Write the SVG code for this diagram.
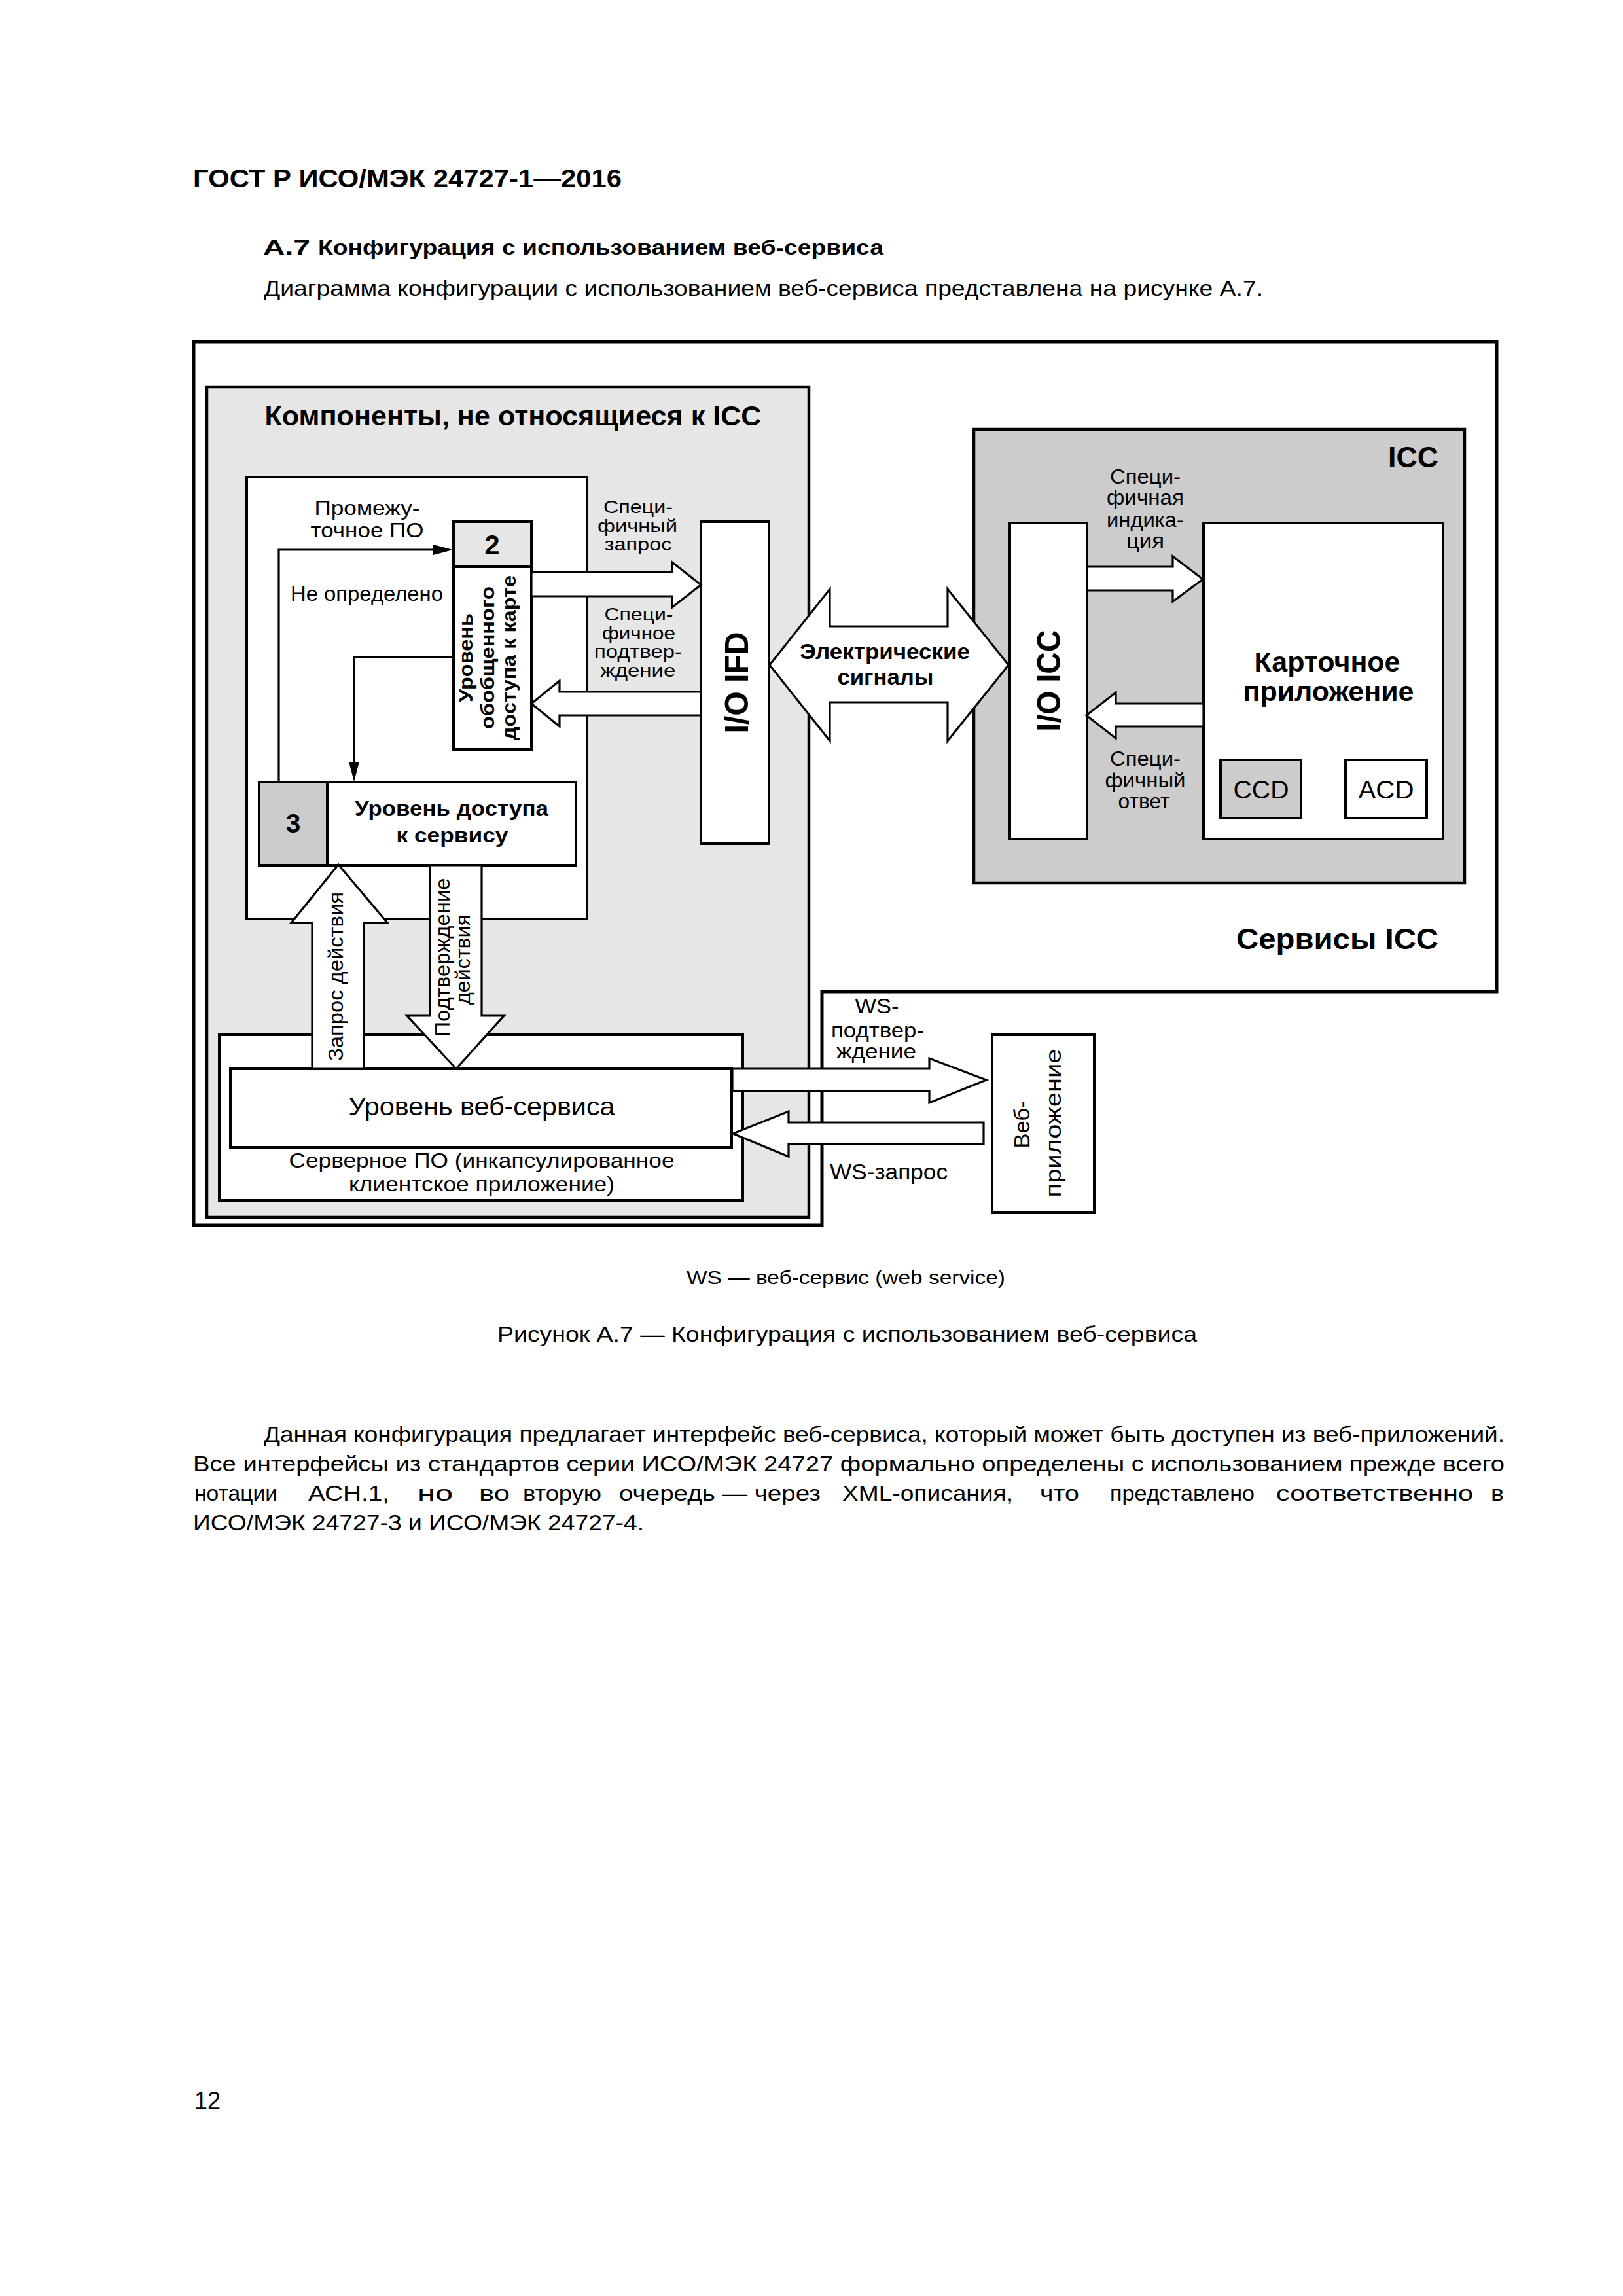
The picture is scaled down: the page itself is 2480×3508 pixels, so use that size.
<svg xmlns="http://www.w3.org/2000/svg" width="2480" height="3508" viewBox="0 0 2480 3508">
<style>
text{font-family:"Liberation Sans",Arial,"Noto Sans",sans-serif;fill:#000}
.b{font-weight:bold}
.m{text-anchor:middle}
.e{text-anchor:end}
.box{fill:#fff;stroke:#000;stroke-width:4}
.ba{fill:#fff;stroke:#000;stroke-width:3.2;stroke-linejoin:miter}
.ln{fill:none;stroke:#000;stroke-width:3.2}
</style>
<defs>
<marker id="ah" markerUnits="userSpaceOnUse" markerWidth="32" markerHeight="18" refX="20" refY="8" orient="auto">
<path d="M0,0 L30,8 L0,16 Z" fill="#000"/>
</marker>
</defs>
<rect width="2480" height="3508" fill="#fff"/>

<g id="page-text">
<text class="b" x="295" y="286" font-size="39" textLength="655" lengthAdjust="spacingAndGlyphs">ГОСТ Р ИСО/МЭК 24727-1—2016</text>
<text class="b" x="402" y="389" font-size="31" textLength="72" lengthAdjust="spacingAndGlyphs">А.7</text>
<text class="b" x="486" y="389" font-size="31" textLength="864" lengthAdjust="spacingAndGlyphs">Конфигурация с использованием веб-сервиса</text>
<text x="403" y="452" font-size="33" textLength="1527" lengthAdjust="spacingAndGlyphs">Диаграмма конфигурации с использованием веб-сервиса представлена на рисунке А.7.</text>
<text x="1049" y="1962" font-size="30" textLength="487" lengthAdjust="spacingAndGlyphs">WS — веб-сервис (web service)</text>
<text x="760" y="2050" font-size="33" textLength="1069" lengthAdjust="spacingAndGlyphs">Рисунок А.7 — Конфигурация с использованием веб-сервиса</text>
<text x="403" y="2203" font-size="34" textLength="1896" lengthAdjust="spacingAndGlyphs">Данная конфигурация предлагает интерфейс веб-сервиса, который может быть доступен из веб-приложений.</text>
<text x="295" y="2248" font-size="34" textLength="2004" lengthAdjust="spacingAndGlyphs">Все интерфейсы из стандартов серии ИСО/МЭК 24727 формально определены с использованием прежде всего</text>
<g font-size="34">
<text x="297" y="2293" textLength="127" lengthAdjust="spacingAndGlyphs">нотации</text>
<text x="471" y="2293" textLength="124" lengthAdjust="spacingAndGlyphs">АСН.1,</text>
<text x="638" y="2293" textLength="54" lengthAdjust="spacingAndGlyphs">но</text>
<text x="732" y="2293" textLength="47" lengthAdjust="spacingAndGlyphs">во</text>
<text x="799" y="2293" textLength="120" lengthAdjust="spacingAndGlyphs">вторую</text>
<text x="946" y="2293" textLength="308" lengthAdjust="spacingAndGlyphs">очередь — через</text>
<text x="1287" y="2293" textLength="261" lengthAdjust="spacingAndGlyphs">XML-описания,</text>
<text x="1589" y="2293" textLength="60" lengthAdjust="spacingAndGlyphs">что</text>
<text x="1696" y="2293" textLength="221" lengthAdjust="spacingAndGlyphs">представлено</text>
<text x="1950" y="2293" textLength="301" lengthAdjust="spacingAndGlyphs">соответственно</text>
<text x="2278" y="2293" textLength="20" lengthAdjust="spacingAndGlyphs">в</text>
</g>
<text x="295" y="2338" font-size="34" textLength="689" lengthAdjust="spacingAndGlyphs">ИСО/МЭК 24727-3 и ИСО/МЭК 24727-4.</text>
<text x="297" y="3222" font-size="36">12</text>
</g>

<g id="frames">
<path id="outer-frame" d="M296,522 H2287 V1515 H1256 V1872 H296 Z" fill="none" stroke="#000" stroke-width="5"/>
<rect id="non-icc-panel" x="316" y="591" width="920" height="1269" fill="#e6e6e6" stroke="#000" stroke-width="4.5"/>
<text class="b m" x="784" y="650" font-size="43" textLength="759" lengthAdjust="spacingAndGlyphs">Компоненты, не относящиеся к ICC</text>
<rect id="icc-panel" x="1488" y="656" width="750" height="693" fill="#cccccc" stroke="#000" stroke-width="4.5"/>
<text class="b e" x="2198" y="714" font-size="44" textLength="77" lengthAdjust="spacingAndGlyphs">ICC</text>
<text class="b e" x="2198" y="1450" font-size="45" textLength="309" lengthAdjust="spacingAndGlyphs">Сервисы ICC</text>
</g>

<g id="middleware">
<rect class="box" x="377" y="729" width="520" height="675"/>
<text class="m" x="561" y="787" font-size="32" textLength="161" lengthAdjust="spacingAndGlyphs">Промежу-</text>
<text class="m" x="561" y="821" font-size="32" textLength="173" lengthAdjust="spacingAndGlyphs">точное ПО</text>
<text x="444" y="918" font-size="32" textLength="233" lengthAdjust="spacingAndGlyphs">Не определено</text>
</g>

<g id="layer2">
<rect class="box" x="693" y="797" width="119" height="348"/>
<rect x="693" y="797" width="119" height="69" fill="#e6e6e6" stroke="#000" stroke-width="4"/>
<text class="b m" x="752" y="847" font-size="42">2</text>
<text class="b m" font-size="30" transform="translate(722,1005) rotate(-90)" textLength="136" lengthAdjust="spacingAndGlyphs">Уровень</text>
<text class="b m" font-size="30" transform="translate(755,1005) rotate(-90)" textLength="218" lengthAdjust="spacingAndGlyphs">обобщенного</text>
<text class="b m" font-size="30" transform="translate(788,1005) rotate(-90)" textLength="252" lengthAdjust="spacingAndGlyphs">доступа к карте</text>
</g>

<g id="layer3">
<rect class="box" x="396" y="1195" width="484" height="127"/>
<rect x="396" y="1195" width="104" height="127" fill="#cccccc" stroke="#000" stroke-width="4"/>
<text class="b m" x="448" y="1272" font-size="40">3</text>
<text class="b m" x="690" y="1246" font-size="32" textLength="296" lengthAdjust="spacingAndGlyphs">Уровень доступа</text>
<text class="b m" x="691" y="1287" font-size="32" textLength="171" lengthAdjust="spacingAndGlyphs">к сервису</text>
</g>

<g id="io-ifd">
<rect class="box" x="1071" y="797" width="104" height="492"/>
<text class="b m" font-size="50" transform="translate(1143,1043) rotate(-90)" textLength="155" lengthAdjust="spacingAndGlyphs">I/O IFD</text>
</g>

<g id="io-icc">
<rect class="box" x="1543" y="799" width="118" height="483"/>
<text class="b m" font-size="50" transform="translate(1620,1040) rotate(-90)" textLength="155" lengthAdjust="spacingAndGlyphs">I/O ICC</text>
</g>

<g id="card-app">
<rect class="box" x="1839" y="799" width="366" height="483"/>
<text class="b m" x="2028" y="1026" font-size="43" textLength="223" lengthAdjust="spacingAndGlyphs">Карточное</text>
<text class="b m" x="2030" y="1071" font-size="43" textLength="261" lengthAdjust="spacingAndGlyphs">приложение</text>
<rect x="1865" y="1161" width="123" height="89" fill="#cccccc" stroke="#000" stroke-width="4"/>
<text class="m" x="1927" y="1220" font-size="39" textLength="85" lengthAdjust="spacingAndGlyphs">CCD</text>
<rect class="box" x="2056" y="1161" width="124" height="89"/>
<text class="m" x="2118" y="1220" font-size="39" textLength="85" lengthAdjust="spacingAndGlyphs">ACD</text>
</g>

<g id="server">
<rect class="box" x="335" y="1581" width="800" height="253"/>
<rect class="box" x="352" y="1633" width="766" height="120"/>
<text class="m" x="736" y="1704" font-size="39" textLength="407" lengthAdjust="spacingAndGlyphs">Уровень веб-сервиса</text>
<text class="m" x="736" y="1784" font-size="32" textLength="589" lengthAdjust="spacingAndGlyphs">Серверное ПО (инкапсулированное</text>
<text class="m" x="736" y="1820" font-size="32" textLength="406" lengthAdjust="spacingAndGlyphs">клиентское приложение)</text>
</g>

<g id="web-app">
<rect class="box" x="1516" y="1581" width="156" height="272"/>
<text class="m" font-size="34" transform="translate(1573,1718) rotate(-90)" textLength="73" lengthAdjust="spacingAndGlyphs">Веб-</text>
<text class="m" font-size="34" transform="translate(1621,1716) rotate(-90)" textLength="227" lengthAdjust="spacingAndGlyphs">приложение</text>
</g>

<g id="connectors">
<polyline class="ln" points="426,1195 426,840 682,840" marker-end="url(#ah)"/>
<polyline class="ln" points="693,1004 541,1004 541,1184" marker-end="url(#ah)"/>
<polygon class="ba" points="812,874 1027,874 1027,859 1071,893.5 1027,928 1027,911 812,911"/>
<polygon class="ba" points="1071,1057 855,1057 855,1040 812,1075 855,1110 855,1093 1071,1093"/>
<polygon class="ba" points="1176,1016 1268,900 1268,957 1448,957 1448,900 1541,1016 1448,1132 1448,1073 1268,1073 1268,1132"/>
<polygon class="ba" points="1661,866 1792,866 1792,850 1838,885 1792,919 1792,902 1661,902"/>
<polygon class="ba" points="1839,1075 1705,1075 1705,1058 1660,1093 1705,1128 1705,1110 1839,1110"/>
<polygon class="ba" points="477,1633 477,1410 445,1410 517,1321 592,1410 556,1410 556,1633"/>
<polygon class="ba" points="657,1322 657,1552 622,1552 697,1633 770,1552 736,1552 736,1322"/>
<polygon class="ba" points="1119,1633 1420,1633 1420,1617 1507,1650 1420,1685 1420,1667 1119,1667"/>
<polygon class="ba" points="1503,1715 1205,1715 1205,1698 1120,1732 1205,1767 1205,1748 1503,1748"/>
</g>

<g id="connector-labels">
<text class="m" x="975" y="784" font-size="28" textLength="106" lengthAdjust="spacingAndGlyphs">Специ-</text>
<text class="m" x="974" y="812.5" font-size="28" textLength="122" lengthAdjust="spacingAndGlyphs">фичный</text>
<text class="m" x="975" y="841" font-size="28" textLength="103" lengthAdjust="spacingAndGlyphs">запрос</text>
<text class="m" x="976" y="948" font-size="28" textLength="105" lengthAdjust="spacingAndGlyphs">Специ-</text>
<text class="m" x="976" y="976.5" font-size="28" textLength="112" lengthAdjust="spacingAndGlyphs">фичное</text>
<text class="m" x="975" y="1005" font-size="28" textLength="134" lengthAdjust="spacingAndGlyphs">подтвер-</text>
<text class="m" x="975" y="1033.5" font-size="28" textLength="115" lengthAdjust="spacingAndGlyphs">ждение</text>
<text class="b m" x="1352" y="1007" font-size="34" textLength="260" lengthAdjust="spacingAndGlyphs">Электрические</text>
<text class="b m" x="1353" y="1046" font-size="34" textLength="147" lengthAdjust="spacingAndGlyphs">сигналы</text>
<text class="m" x="1750" y="739" font-size="31" textLength="108" lengthAdjust="spacingAndGlyphs">Специ-</text>
<text class="m" x="1750" y="771" font-size="31" textLength="118" lengthAdjust="spacingAndGlyphs">фичная</text>
<text class="m" x="1750" y="805" font-size="31" textLength="118" lengthAdjust="spacingAndGlyphs">индика-</text>
<text class="m" x="1750" y="837" font-size="31" textLength="58" lengthAdjust="spacingAndGlyphs">ция</text>
<text class="m" x="1750" y="1170" font-size="31" textLength="108" lengthAdjust="spacingAndGlyphs">Специ-</text>
<text class="m" x="1750" y="1203" font-size="31" textLength="123" lengthAdjust="spacingAndGlyphs">фичный</text>
<text class="m" x="1748" y="1235" font-size="31" textLength="79" lengthAdjust="spacingAndGlyphs">ответ</text>
<text class="m" font-size="32" transform="translate(524,1492) rotate(-90)" textLength="258" lengthAdjust="spacingAndGlyphs">Запрос действия</text>
<text class="m" font-size="32" transform="translate(687,1463) rotate(-90)" textLength="243" lengthAdjust="spacingAndGlyphs">Подтверждение</text>
<text class="m" font-size="32" transform="translate(718,1466) rotate(-90)" textLength="138" lengthAdjust="spacingAndGlyphs">действия</text>
<text class="m" x="1340" y="1548" font-size="32" textLength="67" lengthAdjust="spacingAndGlyphs">WS-</text>
<text class="m" x="1341" y="1585" font-size="32" textLength="142" lengthAdjust="spacingAndGlyphs">подтвер-</text>
<text class="m" x="1339" y="1617" font-size="32" textLength="122" lengthAdjust="spacingAndGlyphs">ждение</text>
<text x="1268" y="1802" font-size="33" textLength="180" lengthAdjust="spacingAndGlyphs">WS-запрос</text>
</g>
</svg>
